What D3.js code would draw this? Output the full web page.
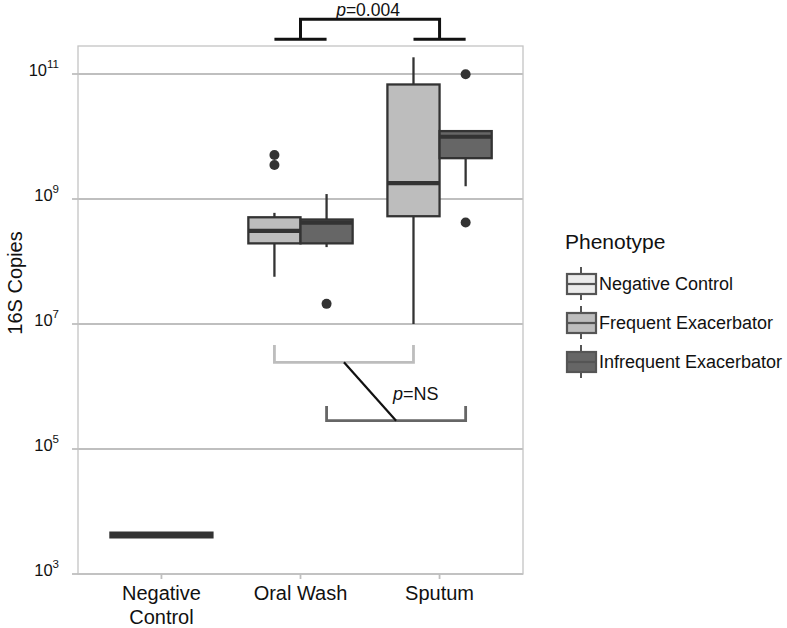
<!DOCTYPE html>
<meta charset="utf-8">
<script src="https://d3js.org/d3.v7.min.js"></script>
<head>
    <title>16S copies</title>
    <style>
        body { margin: 0; background: #fff; }
        text { font-family: "Liberation Sans", Arial, sans-serif; fill: #111; }
    </style>
</head>
<body>
<div id="chart"></div>
<script>
    // ---- data ----
    const sites = ["Negative Control", "Oral Wash", "Sputum"];
    const phenotypes = ["Negative Control", "Frequent Exacerbator", "Infrequent Exacerbator"];
    const phenoFill = ["#ebebeb", "#bdbdbd", "#666666"];

    // one entry per box
    const boxSite  = ["Negative Control", "Oral Wash", "Oral Wash", "Sputum", "Sputum"];
    const boxPheno = ["Negative Control", "Frequent Exacerbator", "Infrequent Exacerbator",
                      "Frequent Exacerbator", "Infrequent Exacerbator"];
    const whiskerLow  = [4200, 5.7e7, 1.7e8, 1.0e7, 1.6e9];
    const q1          = [4200, 1.95e8, 1.95e8, 5.3e8, 4.5e9];
    const median      = [4200, 3.1e8, 4.2e8, 1.8e9, 9.9e9];
    const q3          = [4200, 5.1e8, 4.7e8, 6.8e10, 1.22e10];
    const whiskerHigh = [4200, 6.0e8, 1.2e9, 1.85e11, 1.22e10];
    const outliers    = [[], [3.5e9, 5.06e9], [2.1e7], [], [9.9e10, 4.2e8]];

    const yTicks = [1e3, 1e5, 1e7, 1e9, 1e11];

    // comparison brackets (log-scale heights)
    const topBracket = {from: "Oral Wash", to: "Sputum", foot: 10 ** 11.555, top: 10 ** 11.875, label: "0.004"};
    const freqBracket = {site1: "Oral Wash", site2: "Sputum", pheno: "Frequent Exacerbator", base: 10 ** 6.387, tip: 10 ** 6.664};
    const infreqBracket = {site1: "Oral Wash", site2: "Sputum", pheno: "Infrequent Exacerbator", base: 10 ** 5.453, tip: 10 ** 5.688};

    // ---- layout ----
    const W = 787, H = 628;
    const panel = {left: 78, right: 523, top: 46, bottom: 574};
    const ink = "#333333", lw = 2.3;

    const svg = d3.select("#chart").append("svg")
        .attr("width", W).attr("height", H);

    const x = d3.scaleBand()
        .domain(sites)
        .range([panel.left, panel.right])
        .paddingInner(0.25)
        .paddingOuter(0.225);

    const y = d3.scaleLog()
        .domain([1e3, 10 ** (3 + 528 / 62.5)])
        .range([panel.bottom, panel.top]);

    const color = d3.scaleOrdinal().domain(phenotypes).range(phenoFill);

    // dodge inside each site
    const dodge = site => {
        const present = boxPheno.filter((p, i) => boxSite[i] === site);
        return d3.scaleBand().domain(present).range([x(site), x(site) + x.bandwidth()]);
    };
    const boxX = (site, pheno) => dodge(site)(pheno);
    const boxW = site => dodge(site).bandwidth();
    const boxC = (site, pheno) => boxX(site, pheno) + boxW(site) / 2;

    // grid
    svg.append("g").selectAll("line")
        .data(yTicks)
        .join("line")
        .attr("x1", panel.left).attr("x2", panel.right)
        .attr("y1", d => y(d)).attr("y2", d => y(d))
        .attr("stroke", "#bfbfbf").attr("stroke-width", 1.8);

    // panel border
    svg.append("rect")
        .attr("x", panel.left).attr("y", panel.top)
        .attr("width", panel.right - panel.left)
        .attr("height", panel.bottom - panel.top)
        .attr("fill", "none").attr("stroke", "#c4c4c4").attr("stroke-width", 1.3);

    // y axis ticks + labels
    const yAx = svg.append("g");
    yAx.selectAll("line")
        .data(yTicks)
        .join("line")
        .attr("x1", panel.left - 6).attr("x2", panel.left)
        .attr("y1", d => y(d)).attr("y2", d => y(d))
        .attr("stroke", "#bfbfbf").attr("stroke-width", 1.8);
    const yl = yAx.selectAll("text")
        .data(yTicks)
        .join("text")
        .attr("x", 59)
        .attr("y", d => y(d) + 2)
        .attr("text-anchor", "end")
        .style("font-size", "16.5px");
    yl.append("tspan").text("10");
    yl.append("tspan")
        .attr("dy", -8)
        .style("font-size", "11.5px")
        .text(d => Math.round(Math.log10(d)));

    // x axis ticks + labels
    const xAx = svg.append("g");
    xAx.selectAll("line")
        .data(sites)
        .join("line")
        .attr("x1", d => x(d) + x.bandwidth() / 2).attr("x2", d => x(d) + x.bandwidth() / 2)
        .attr("y1", panel.bottom).attr("y2", panel.bottom + 5)
        .attr("stroke", "#bfbfbf").attr("stroke-width", 1.8);
    xAx.selectAll("text")
        .data(sites)
        .join("text")
        .attr("x", d => x(d) + x.bandwidth() / 2)
        .attr("y", 600)
        .attr("text-anchor", "middle")
        .style("font-size", "20px")
        .each(function (d) {
            const words = d === "Negative Control" ? ["Negative", "Control"] : [d];
            d3.select(this).selectAll("tspan")
                .data(words)
                .join("tspan")
                .attr("x", x(d) + x.bandwidth() / 2)
                .attr("dy", (w, i) => i === 0 ? 0 : 24)
                .text(w => w);
        });

    // y title
    svg.append("text")
        .attr("transform", `translate(22, 283) rotate(-90)`)
        .attr("text-anchor", "middle")
        .style("font-size", "20px")
        .text("16S Copies");

    // ---- boxes ----
    const boxes = boxSite.map((s, i) => ({
        site: s, pheno: boxPheno[i],
        lo: whiskerLow[i], q1: q1[i], med: median[i], q3: q3[i], hi: whiskerHigh[i],
        out: outliers[i]
    }));

    const gBox = svg.append("g");
    boxes.forEach(b => {
        const cx = boxC(b.site, b.pheno);
        const g = gBox.append("g");
        g.append("line")
            .attr("x1", cx).attr("x2", cx)
            .attr("y1", y(b.hi)).attr("y2", y(b.q3))
            .attr("stroke", ink).attr("stroke-width", lw);
        g.append("line")
            .attr("x1", cx).attr("x2", cx)
            .attr("y1", y(b.q1)).attr("y2", y(b.lo))
            .attr("stroke", ink).attr("stroke-width", lw);
        g.append("rect")
            .attr("x", boxX(b.site, b.pheno))
            .attr("width", boxW(b.site))
            .attr("y", y(b.q3))
            .attr("height", Math.max(y(b.q1) - y(b.q3), 0))
            .attr("fill", color(b.pheno))
            .attr("stroke", ink).attr("stroke-width", lw);
        g.append("line")
            .attr("x1", boxX(b.site, b.pheno)).attr("x2", boxX(b.site, b.pheno) + boxW(b.site))
            .attr("y1", y(b.med)).attr("y2", y(b.med))
            .attr("stroke", ink).attr("stroke-width", b.site === "Negative Control" ? 7 : 4.2);
        g.selectAll("circle")
            .data(b.out)
            .join("circle")
            .attr("cx", cx).attr("cy", d => y(d))
            .attr("r", 5)
            .attr("fill", ink);
    });

    // ---- p = 0.004 bracket (outside the panel, on top) ----
    const ann = svg.append("g").attr("fill", "none");
    const c1 = x(topBracket.from) + x.bandwidth() / 2;
    const c2 = x(topBracket.to) + x.bandwidth() / 2;
    const half = x.bandwidth() / 4;
    ann.append("path")
        .attr("d", `M${c1 - half},${y(topBracket.foot)}H${c1 + half}M${c1},${y(topBracket.foot)}V${y(topBracket.top)}H${c2}V${y(topBracket.foot)}M${c2 - half},${y(topBracket.foot)}H${c2 + half}`)
        .attr("stroke", "#111").attr("stroke-width", 3);
    const pt = svg.append("text")
        .attr("x", (c1 + c2) / 2 - 2)
        .attr("y", 16)
        .attr("text-anchor", "middle")
        .style("font-size", "17.5px");
    pt.append("tspan").style("font-style", "italic").text("p");
    pt.append("tspan").text("=" + topBracket.label);

    // ---- p = NS brackets ----
    const bracket = (b, stroke) => {
        const a = boxC(b.site1, b.pheno), z = boxC(b.site2, b.pheno);
        ann.append("path")
            .attr("d", `M${a},${y(b.tip)}V${y(b.base)}H${z}V${y(b.tip)}`)
            .attr("stroke", stroke).attr("stroke-width", 2.8);
        return [(a + z) / 2, y(b.base)];
    };
    const m1 = bracket(freqBracket, "#bdbdbd");
    const m2 = bracket(infreqBracket, "#666666");
    ann.append("line")
        .attr("x1", m1[0]).attr("y1", m1[1])
        .attr("x2", m2[0]).attr("y2", m2[1])
        .attr("stroke", "#111").attr("stroke-width", 2.2);
    const ns = svg.append("text")
        .attr("x", 393)
        .attr("y", y(10 ** 5.79))
        .style("font-size", "18px");
    ns.append("tspan").style("font-style", "italic").text("p");
    ns.append("tspan").text("=NS");

    // ---- legend ----
    const lg = svg.append("g").attr("transform", "translate(566, 0)");
    lg.append("text")
        .attr("x", -1).attr("y", 249)
        .style("font-size", "21px")
        .text("Phenotype");
    const keyY = d3.scalePoint().domain(phenotypes).range([284, 362]);
    const key = lg.selectAll("g.key")
        .data(phenotypes)
        .join("g")
        .attr("class", "key")
        .attr("transform", d => `translate(0, ${keyY(d)})`);
    key.append("line")
        .attr("x1", 15).attr("x2", 15).attr("y1", -17).attr("y2", 16)
        .attr("stroke", "#555").attr("stroke-width", 2);
    key.append("rect")
        .attr("x", 1).attr("y", -10).attr("width", 29).attr("height", 20)
        .attr("fill", d => color(d))
        .attr("stroke", "#555").attr("stroke-width", 2.2);
    key.append("line")
        .attr("x1", 1).attr("x2", 30).attr("y1", 0).attr("y2", 0)
        .attr("stroke", "#555").attr("stroke-width", 2.2);
    key.append("text")
        .attr("x", 33).attr("y", 6)
        .style("font-size", "18px")
        .text(d => d);
</script>
</body>
